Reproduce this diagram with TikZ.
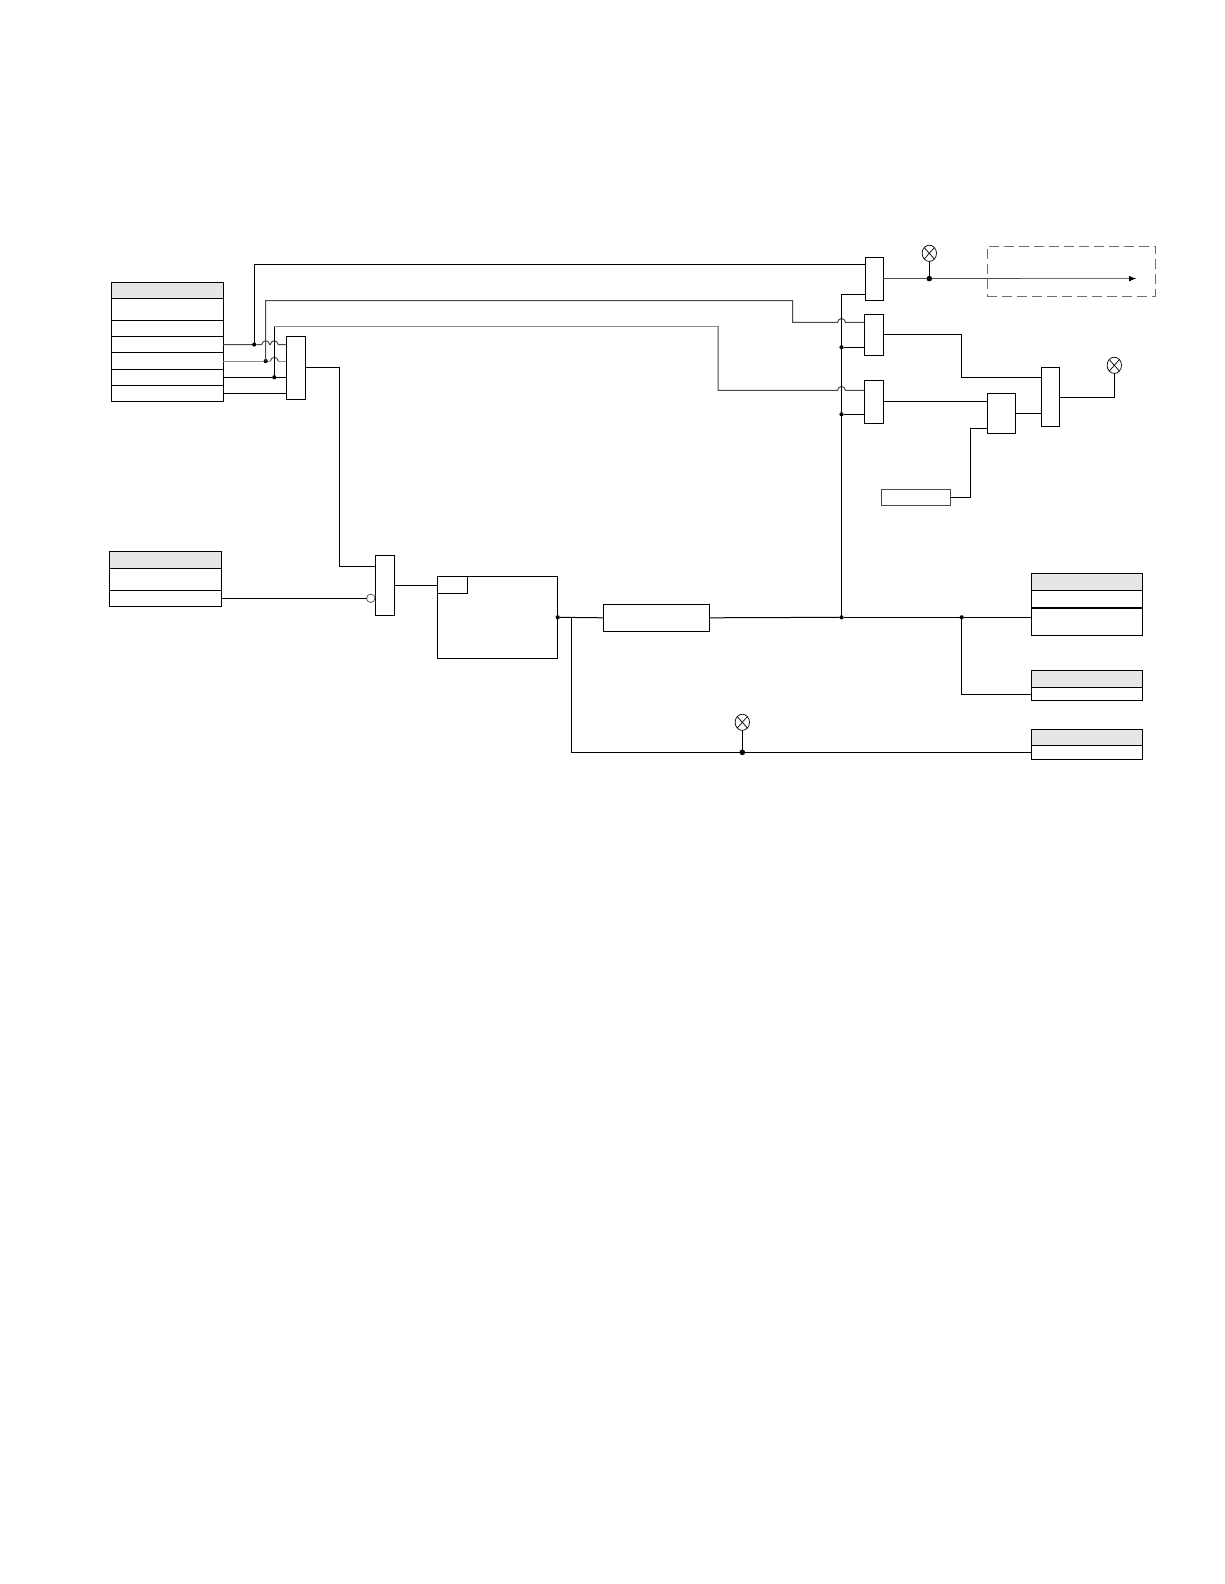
\documentclass[tikz,border=0pt]{standalone}
\usetikzlibrary{arrows.meta,shapes.geometric}
\definecolor{hdrgray}{HTML}{E6E6E6}
\definecolor{wiredark}{HTML}{4A4A4A}
\definecolor{wiremid}{HTML}{6E6E6E}
\definecolor{wirelight}{HTML}{8C8C8C}
\tikzset{
  blk/.style={draw=black,fill=white,line width=1pt,inner sep=0pt,outer sep=0pt},
  hdr/.style={blk,fill=hdrgray},
  wire/.style={draw=black,line width=1pt},
  dotsmall/.style={circle,fill=black,inner sep=0pt,outer sep=0pt,minimum size=4.2pt},
  dotbig/.style={circle,fill=black,inner sep=0pt,outer sep=0pt,minimum size=5.6pt},
  lamp/.style={ellipse,draw=black,fill=white,line width=0.7pt,inner sep=0pt,outer sep=0pt,
    minimum width=14.4pt,minimum height=16.2pt,
    path picture={\draw[line width=0.7pt]
      (path picture bounding box.north west)--(path picture bounding box.south east)
      (path picture bounding box.north east)--(path picture bounding box.south west);}},
  inv/.style={circle,draw=wiredark,fill=white,line width=0.7pt,inner sep=0pt,outer sep=0pt,minimum size=8.4pt},
}
\newcommand{\blk}[6][blk]{\node[#1,minimum width={(#5-#3)*1pt},minimum height={(#6-#4)*1pt}] (#2) at ({(#3+#5)/2},{(#4+#6)/2}) {};}
\begin{document}
\begin{tikzpicture}[x=1pt,y=-1pt]
\useasboundingbox (0,0) rectangle (1224,1584);
% table A
\blk[hdr]{aH}{111.5}{282.3}{223.3}{298.3}
\blk{aA}{111.5}{298.3}{223.3}{320.3}
\blk{aB}{111.5}{320.3}{223.3}{336.3}
\blk{aC}{111.5}{336.3}{223.3}{352.8}
\blk{aD}{111.5}{352.8}{223.3}{369.3}
\blk{aE}{111.5}{369.3}{223.3}{385.3}
\blk{aF}{111.5}{385.3}{223.3}{401.3}
% table B
\blk[hdr]{bH}{109.3}{551.3}{221.7}{568.3}
\blk{bA}{109.3}{568.3}{221.7}{590.3}
\blk{bB}{109.3}{590.3}{221.7}{606.3}
% gates
\blk{gA}{286.3}{336.3}{305.3}{399.3}
\blk{gB}{375.3}{555.3}{394.7}{615.7}
\blk{main}{437.3}{576.3}{557.7}{658.3}
\blk{mainc}{437.3}{576.3}{467.7}{593.3}
\blk{delay}{603.3}{604.3}{709.7}{631.3}
\blk{gC}{865.3}{257.3}{883.3}{300.3}
\blk{gD}{864.3}{314.3}{883.3}{355.3}
\blk{gE}{864.3}{380.3}{883.3}{423.3}
\blk{gF}{987.3}{393.3}{1015.3}{433.3}
\blk{gG}{1041.3}{367.3}{1059.3}{426.3}
\node[blk,draw=wiredark,minimum width=69.4pt,minimum height=16pt] (setb) at (916,497.3) {};
% output tables
\blk[hdr]{cH}{1031.3}{573.3}{1142.3}{590.3}
\blk{cA}{1031.3}{590.3}{1142.3}{608}
\blk{cB}{1031.3}{608}{1142.3}{635.3}
\draw[line width=1.6pt] (cB.north west) -- (cB.north east);
\blk[hdr]{dH}{1031.3}{670.3}{1142.3}{687.3}
\blk{dA}{1031.3}{687.3}{1142.3}{700.8}
\blk[hdr]{eH}{1031.3}{729.3}{1142.3}{745.3}
\blk{eA}{1031.3}{745.3}{1142.3}{759.3}
% dashed box
\node[draw=wiremid,dash pattern=on 10pt off 5pt,line width=1pt,inner sep=0pt,outer sep=0pt,minimum width=168.4pt,minimum height=50pt] (dbox) at (1071.5,271) {};
% dots, lamps, junctions
\node[dotsmall] (jA) at (254.2,344.55) {};
\node[dotsmall] (jB) at (265.7,361.05) {};
\node[dotsmall] (jC) at (274.3,377.3) {};
\node[dotsmall] (jM) at (557.7,617.3) {};
\node[dotsmall] (jV) at (841.5,617.3) {};
\node[dotsmall] (jW) at (961.7,617.3) {};
\node[dotsmall] (jD) at (841.5,347.3) {};
\node[dotsmall] (jE) at (841.5,414.3) {};
\node[dotbig] (jL) at (742.3,752.3) {};
\node[dotbig] (jO) at (929.3,278.6) {};
\node[lamp] (lA) at (929.3,253.3) {};
\node[lamp] (lB) at (1114.3,365.3) {};
\node[lamp] (lC) at (742.3,722.3) {};
\node[inv] (nI) at (370.8,598.3) {};
\coordinate (cA1) at (792.7,300.7);
\coordinate (cA2) at (718,326);
\coordinate (cT) at (1020,278.6);
\coordinate (cAr) at (1136,278.6);
\coordinate (cBr) at (571.3,617.3);
% row wires with hops
\draw[wire,draw=wiredark] (aC.east) -- (jA) -- ([xshift=-4pt]jB |- jA)
  .. controls +(1,-5) and +(-1,-5) .. ([xshift=4pt]jB |- jA)
  -- ([xshift=-4pt]jC |- jA)
  .. controls +(1,-5) and +(-1,-5) .. ([xshift=4pt]jC |- jA)
  -- (jA -| gA.west);
\draw[wire,draw=wirelight] (aD.east) -- (jB) -- ([xshift=-4pt]jC |- jB);
\draw[wire,draw=wiredark] ([xshift=-4pt]jC |- jB)
  .. controls +(1,-5) and +(-1,-5) .. ([xshift=4pt]jC |- jB);
\draw[wire,draw=wirelight] ([xshift=4pt]jC |- jB) -- (jB -| gA.west);
\draw[wire] (aE.east) -- (jC) -- (jC -| gA.west);
\draw[wire] (aF.east) -- (aF.east -| gA.west);
% long wires
\draw[wire] (jA.center) |- (gC.west |- 0,264.3);
\draw[wire,draw=wiredark] (jB.center) |- (cA1) |- ([xshift=-4pt]jV |- 0,322.3)
  .. controls +(1,-5) and +(-1,-5) .. ([xshift=4pt]jV |- 0,322.3) -- (gD.west |- 0,322.3);
\draw[wire] (jC.center) -- (jC |- cA2);
\draw[wire,draw=wirelight] (jC |- cA2) -- (cA2);
\draw[wire,draw=wiredark] (cA2) |- ([xshift=-4pt]jV |- 0,390.3)
  .. controls +(1,-5) and +(-1,-5) .. ([xshift=4pt]jV |- 0,390.3) -- (gE.west |- 0,390.3);
% gate chain
\draw[wire] (gA.east |- 0,367.3) -| (339.3,566.3) -- (gB.west |- 0,566.3);
\draw[wire] (bB.east) -- (nI.west);
\draw[wire] (gB.east |- 0,585.3) -- (main.west |- 0,585.3);
\draw[wire] (jM) -- (delay.west);
\draw[wire] (delay.east) -- (jV);
\draw[wire] (jV) -- (jW) -- (cB.west |- jW);
\draw[wire] (jW.center) |- (dA.west);
\draw[wire] (cBr) |- (jL) -- (eA.west);
\draw[wire] (jL) -- (lC.south);
% trunk
\draw[wire] (jV.center) |- (gC.west |- 0,294.3);
\draw[wire] (jD) -- (gD.west |- jD);
\draw[wire] (jE) -- (gE.west |- jE);
% right part
\draw[wire,draw=wiredark] (gC.east |- jO) -- (jO) -- (cT);
\draw[wire] (jO) -- (lA.south);
\draw[wire,draw=wiremid] (cT) -- (cAr);
\path[-{Latex[length=7pt,width=6pt]},draw=black,line width=1pt] ([xshift=-4pt]cAr) -- (cAr);
\draw[wire] (gD.east) -| (961.7,377.3) -- (gG.west |- 0,377.3);
\draw[wire] (gE.east |- 0,401) -- (gF.west |- 0,401);
\draw[wire] (setb.east) -| (970.7,428.3) -- (gF.west |- 0,428.3);
\draw[wire] (gF.east) -- (gG.west |- gF.east);
\draw[wire] (gG.east |- 0,397.3) -| (lB.south);
\end{tikzpicture}
\end{document}
